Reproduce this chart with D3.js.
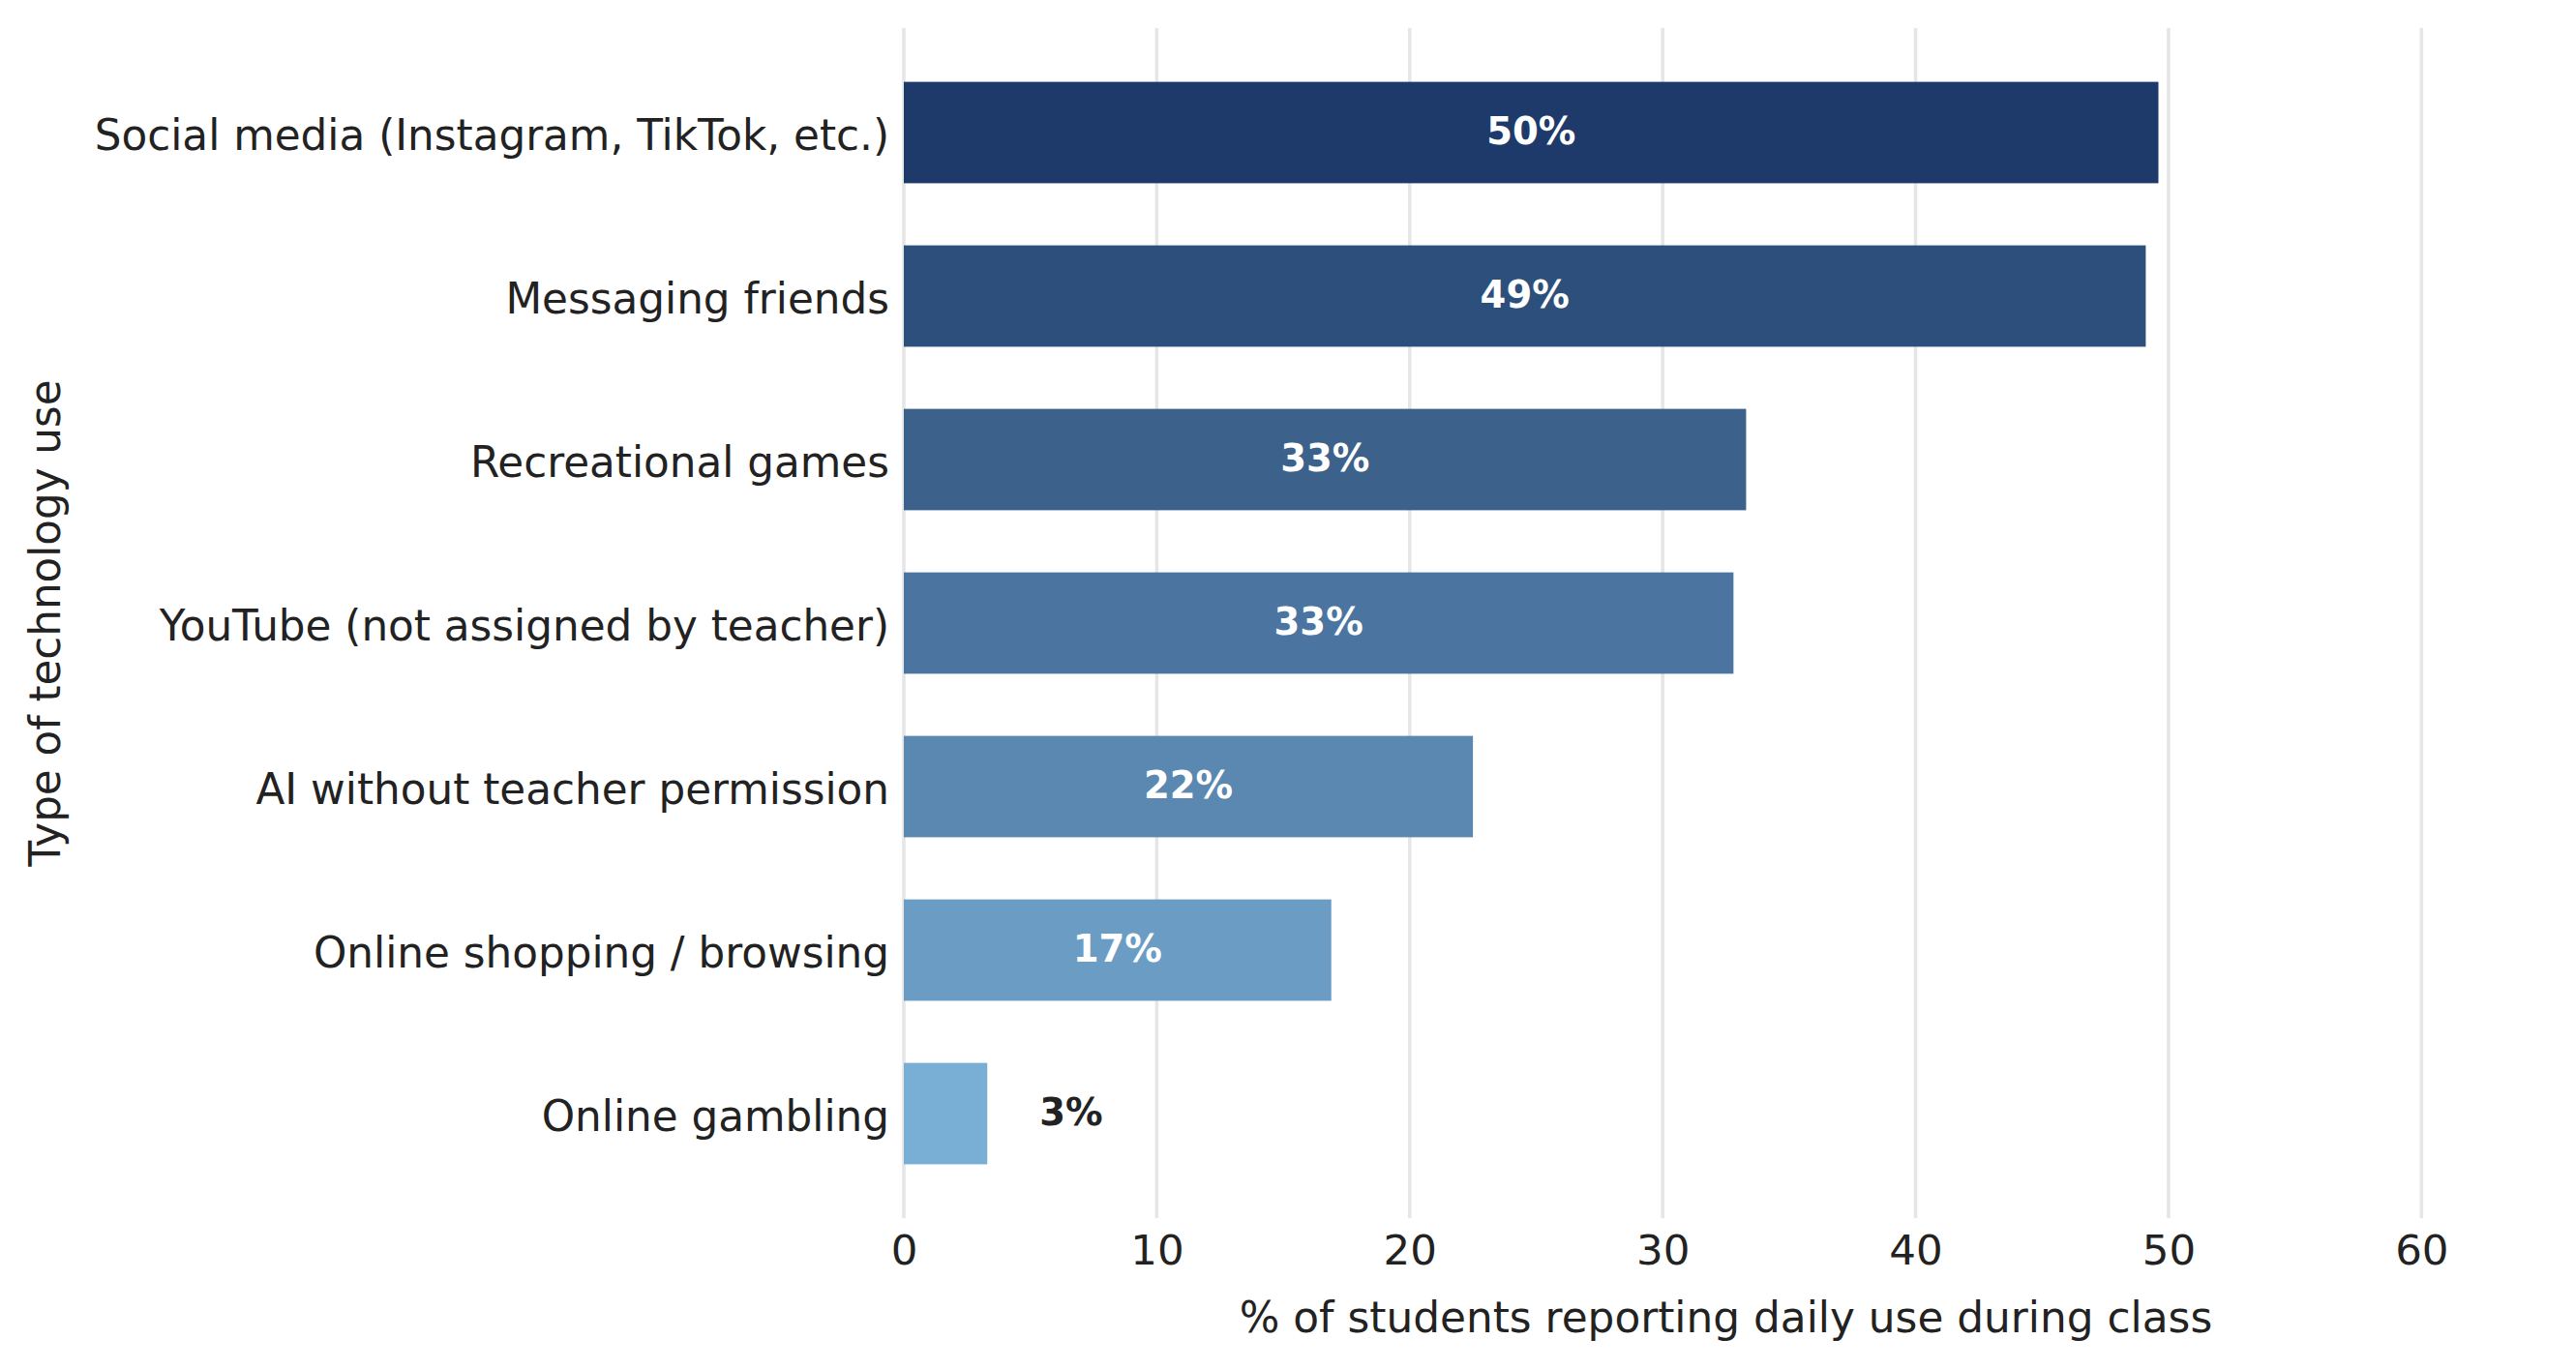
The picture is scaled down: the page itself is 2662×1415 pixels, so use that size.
<!DOCTYPE html>
<html>
<head>
<meta charset="utf-8">
<script src="https://cdn.jsdelivr.net/npm/d3@7"></script>
<style>
  html, body { margin: 0; padding: 0; background: #ffffff; }
  svg { display: block; }
  text { font-family: "DejaVu Sans", sans-serif; }
</style>
</head>
<body>
<svg id="chart" width="2662" height="1415"></svg>
<script>
const categories = [
  "Social media (Instagram, TikTok, etc.)",
  "Messaging friends",
  "Recreational games",
  "YouTube (not assigned by teacher)",
  "AI without teacher permission",
  "Online shopping / browsing",
  "Online gambling"
];
const values = [49.6, 49.1, 33.3, 32.8, 22.5, 16.9, 3.3];
const valueLabels = ["50%", "49%", "33%", "33%", "22%", "17%", "3%"];
const barColors = ["#1d3a6b", "#2c507b", "#3c628c", "#4b75a0", "#5b88b0", "#6b9cc4", "#7aafd5"];
const xTicks = [0, 10, 20, 30, 40, 50, 60];
const xTitle = "% of students reporting daily use during class";
const yTitle = "Type of technology use";

const svg = d3.select("#chart");
const plot = { left: 934, right: 2633, top: 29, bottom: 1259 };

const x = d3.scaleLinear().domain([0, 65]).range([plot.left, plot.right]);
const y = d3.scaleBand().domain(categories).range([plot.top, plot.bottom])
  .paddingInner(0.38).paddingOuter(0.329);

const textColor = "#222222";

// gridlines
const grid = svg.append("g");
grid.selectAll("line").data(xTicks).join("line")
  .attr("x1", d => x(d)).attr("x2", d => x(d))
  .attr("y1", plot.top).attr("y2", plot.bottom)
  .attr("stroke", "#e6e6e6").attr("stroke-width", 3.6);

// bars
svg.append("g").selectAll("rect").data(categories).join("rect")
  .attr("x", x(0))
  .attr("y", d => y(d))
  .attr("width", (d, i) => x(values[i]) - x(0))
  .attr("height", y.bandwidth())
  .attr("fill", (d, i) => barColors[i]);

// value labels
svg.append("g").selectAll("text").data(categories).join("text")
  .attr("x", (d, i) => values[i] >= 8 ? x(values[i] / 2) : x(values[i]) + 173 - (x(values[i]) - x(0)))
  .attr("y", d => y(d) + y.bandwidth() / 2 + 12)
  .attr("text-anchor", "middle")
  .attr("font-size", 38.5)
  .attr("font-weight", "bold")
  .attr("fill", (d, i) => values[i] >= 8 ? "#ffffff" : textColor)
  .text((d, i) => valueLabels[i]);

// x axis
const xAxis = d3.axisBottom(x).tickValues(xTicks).tickSize(0).tickPadding(0).tickFormat(d3.format("d"));
const gx = svg.append("g").attr("transform", `translate(0,${plot.bottom})`).call(xAxis);
gx.select(".domain").remove();
gx.selectAll("text")
  .attr("font-size", 43.5).attr("fill", textColor)
  .attr("font-family", "DejaVu Sans, sans-serif")
  .attr("y", 48).attr("dy", null);

// y axis
const yAxis = d3.axisLeft(y).tickSize(0).tickPadding(0);
const gy = svg.append("g").attr("transform", `translate(${plot.left},0)`).call(yAxis);
gy.select(".domain").remove();
gy.selectAll("text")
  .attr("font-size", 43.7).attr("fill", textColor)
  .attr("font-family", "DejaVu Sans, sans-serif")
  .attr("x", -15).attr("dy", "0.41em");

// axis titles
svg.append("text")
  .attr("x", (plot.left + plot.right) / 2)
  .attr("y", 1377)
  .attr("text-anchor", "middle")
  .attr("font-size", 43.8)
  .attr("fill", textColor)
  .text(xTitle);

svg.append("text")
  .attr("transform", `translate(62,${(plot.top + plot.bottom) / 2}) rotate(-90)`)
  .attr("text-anchor", "middle")
  .attr("font-size", 43.6)
  .attr("fill", textColor)
  .text(yTitle);
</script>
</body>
</html>
